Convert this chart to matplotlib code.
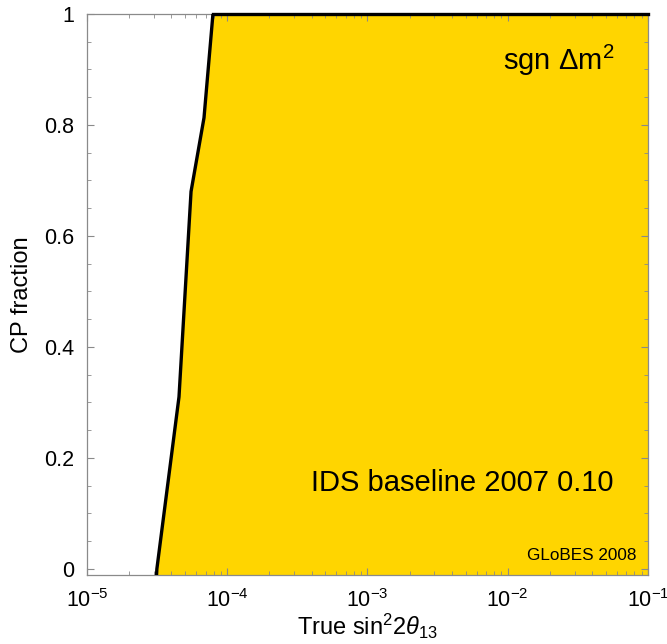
import matplotlib.pyplot as plt
from matplotlib.ticker import MultipleLocator, LogLocator

plt.rcParams["font.family"] = ["Liberation Sans", "DejaVu Sans"]
plt.rcParams["mathtext.fontset"] = "custom"
plt.rcParams["mathtext.rm"] = "Liberation Sans"
plt.rcParams["mathtext.it"] = "Liberation Sans:italic"

# boundary of the sgn(dm^2) sensitivity region (continues to the frame edge)
cp_fraction = [-0.02, 0.0, 0.31, 0.68, 0.813, 1.0]
sin2_theta = [3.12e-5, 3.15e-5, 4.53e-5, 5.52e-5, 6.83e-5, 7.91e-5]
x_max = 1e-1

YELLOW = "#FFD500"
GREY = "#8a8a8a"

fig = plt.figure(figsize=(6.67, 6.44), dpi=100)
ax = fig.add_axes([0.1304, 0.1071, 0.8411, 0.8712])

ax.fill_betweenx(cp_fraction, sin2_theta, x_max, color=YELLOW, lw=0, zorder=1)
ax.plot(sin2_theta + [x_max], cp_fraction + [cp_fraction[-1]],
        color="black", lw=2.4, zorder=3, solid_joinstyle="miter")
# top edge of the region sits on the frame, draw it unclipped
ax.plot([sin2_theta[-1], x_max], [cp_fraction[-1], cp_fraction[-1]],
        color="black", lw=2.4, zorder=3, clip_on=False)

ax.set_xscale("log")
ax.set_xlim(1e-5, 1e-1)
ax.set_ylim(-0.011, 1.0)

ax.yaxis.set_minor_locator(MultipleLocator(0.05))
ax.xaxis.set_major_locator(LogLocator(base=10, numticks=10))
ax.xaxis.set_minor_locator(LogLocator(base=10, subs=range(2, 10), numticks=20))
ax.set_yticks([0, 0.2, 0.4, 0.6, 0.8, 1.0])
ax.set_yticklabels(["0", "0.2", "0.4", "0.6", "0.8", "1"])

ax.tick_params(which="both", direction="in", top=True, right=True, color=GREY,
               labelsize=15.5)
ax.tick_params(which="major", length=5, width=0.8)
ax.tick_params(which="minor", length=3, width=0.6)
ax.tick_params(axis="y", pad=9)
ax.tick_params(axis="x", pad=10)
for s in ax.spines.values():
    s.set_color(GREY)
    s.set_linewidth(0.9)

ax.set_xlabel(r"True sin$^2$2$\theta_{13}$", fontsize=17, labelpad=0)
ax.set_ylabel("CP fraction", fontsize=17, labelpad=8)

ax.text(0.94, 0.917, r"sgn $\Delta$m$^2$", transform=ax.get_yaxis_transform(),
        ha="right", va="center", fontsize=21, zorder=4)
ax.text(0.938, 0.155, "IDS baseline 2007 0.10", transform=ax.get_yaxis_transform(),
        ha="right", va="center", fontsize=21, zorder=4)
ax.text(0.98, 0.025, "GLoBES 2008", transform=ax.get_yaxis_transform(),
        ha="right", va="center", fontsize=12.3, zorder=4)

fig.savefig("out.png", dpi=100)
